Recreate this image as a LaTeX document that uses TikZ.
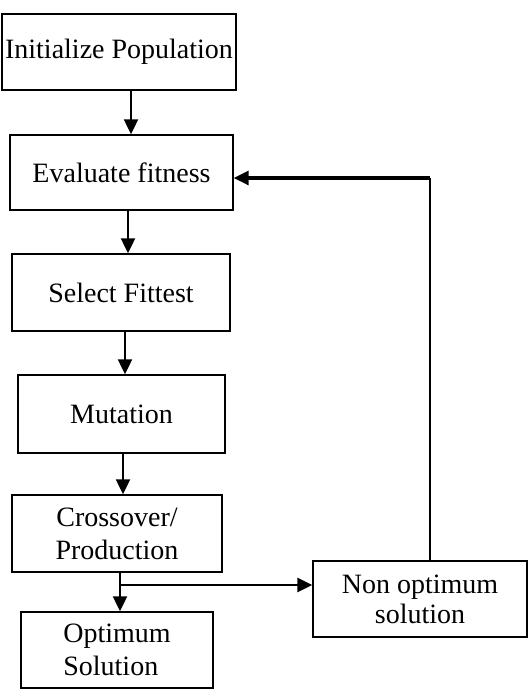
\documentclass[tikz,border=0pt]{standalone}
\usepackage{fontspec}
\setmainfont{Liberation Serif}
\usetikzlibrary{arrows.meta}
\begin{document}
\begin{tikzpicture}[x=1pt,y=-1pt,
    stage/.style={draw,line width=1.4pt,inner sep=0pt,align=center,
      font=\fontsize{28}{33}\selectfont},
    arr/.style={line width=2.2pt,-{Triangle[length=15pt,width=14pt]}}]
      \useasboundingbox (0,0) rectangle (530,690);
      \node[stage,minimum width=234,minimum height=76] (init) at (119,52) {Initialize Population};
      \node[stage,minimum width=223,minimum height=75] (eval) at (121.5,172.5) {Evaluate fitness};
      \node[stage,minimum width=218,minimum height=77] (sel) at (121,292.5) {Select Fittest};
      \node[stage,minimum width=207,minimum height=78] (mut) at (121.5,414) {Mutation};
      \node[stage,minimum width=210,minimum height=77] (cross) at (117,533.5) {Crossover/\\Production};
      \node[stage,minimum width=192,minimum height=76,align=left] (opt) at (117,650) {Optimum\\Solution};
      \node[stage,minimum width=214,minimum height=76,font=\fontsize{28}{30}\selectfont] (nonopt) at (420,599) {Non optimum\\solution};
      \coordinate (split) at (120,585);
      \coordinate (corner) at (430,178);
      \draw[line width=1.6pt] ([xshift=10]nonopt.north) -- (corner);
      \begin{scope}[arr]
        \draw ([xshift=12]init.south) to ([xshift=9.5]eval.north);
        \draw ([xshift=6.5]eval.south) to ([xshift=7]sel.north);
        \draw ([xshift=4]sel.south) to ([xshift=3.5]mut.north);
        \draw ([xshift=1.5]mut.south) to ([xshift=6]cross.north);
        \draw ([xshift=3]cross.south) to ([xshift=3]opt.north);
        \draw[line width=2.8pt] (split) to (split -| nonopt.west);
        \draw[line width=3.2pt] (corner) to ([yshift=-5.5]eval.east);
      \end{scope}
    \end{tikzpicture}
\end{document}
